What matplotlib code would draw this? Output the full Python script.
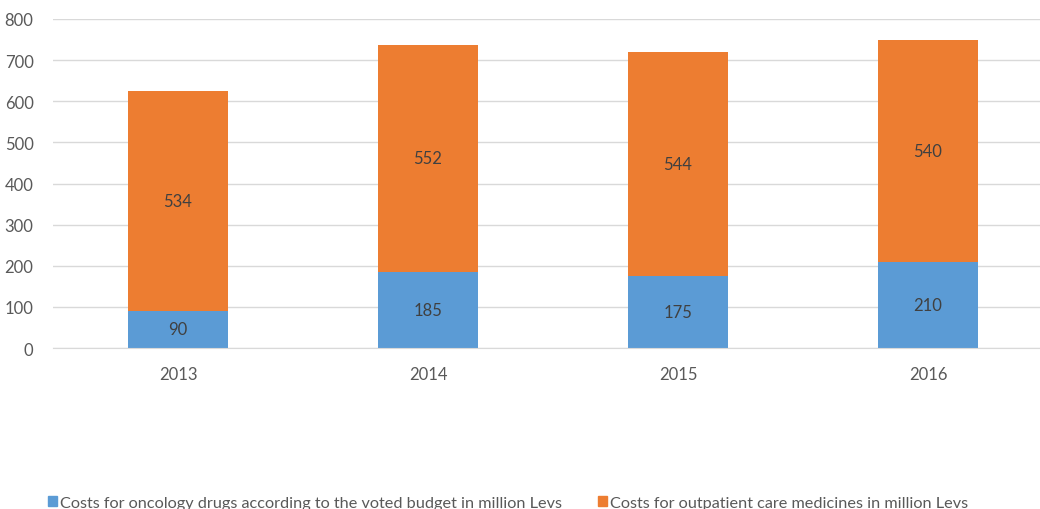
import matplotlib
matplotlib.use("Agg")
import matplotlib.pyplot as plt
from matplotlib.patches import Patch

years = ["2013", "2014", "2015", "2016"]
oncology = [90, 185, 175, 210]
outpatient = [534, 552, 544, 540]
series_names = ["Costs for oncology drugs according to the voted budget in million Levs",
                "Costs for outpatient care medicines in million Levs"]
yticks = [0, 100, 200, 300, 400, 500, 600, 700, 800]

BLUE = "#5B9BD5"
ORANGE = "#ED7D31"
TXT = "#595959"
plt.rcParams['font.family'] = ['Lato', 'DejaVu Sans']

W, H = 1040, 510
fig = plt.figure(figsize=(W/100, H/100), dpi=100)
ax = fig.add_axes([53/W, (H-349)/H, 1000/W, 329/H])

x = range(len(years))
b1 = ax.bar(x, oncology, width=0.4, color=BLUE, zorder=2)
b2 = ax.bar(x, outpatient, width=0.4, bottom=oncology, color=ORANGE, zorder=2)
ax.bar_label(b1, labels=[str(v) for v in oncology], label_type='center', color="#404040", fontsize=12)
ax.bar_label(b2, labels=[str(v) for v in outpatient], label_type='center', color="#404040", fontsize=12)

ax.set_xlim(-0.5, len(years) - 0.5)
ax.set_ylim(0, 800)
ax.set_yticks(yticks)
ax.set_xticks(list(x))
ax.set_xticklabels(years)
ax.yaxis.grid(True, color="#D9D9D9", linewidth=1, zorder=0)
ax.set_axisbelow(True)
for s in ["top", "right", "left"]:
    ax.spines[s].set_visible(False)
ax.spines["bottom"].set_color("#D9D9D9")
ax.tick_params(axis='both', length=0, colors=TXT, labelsize=12)
ax.tick_params(axis='x', pad=13)
ax.tick_params(axis='y', pad=14)

handles = [Patch(color=BLUE), Patch(color=ORANGE)]
fig.legend(handles, series_names, loc='center left', bbox_to_anchor=(33/W, 6/H),
           ncol=2, frameon=False, fontsize=11.7, labelcolor=TXT,
           handlelength=0.6, handleheight=0.6, handletextpad=0.15, columnspacing=2.2)

fig.savefig("out.png", dpi=100)
